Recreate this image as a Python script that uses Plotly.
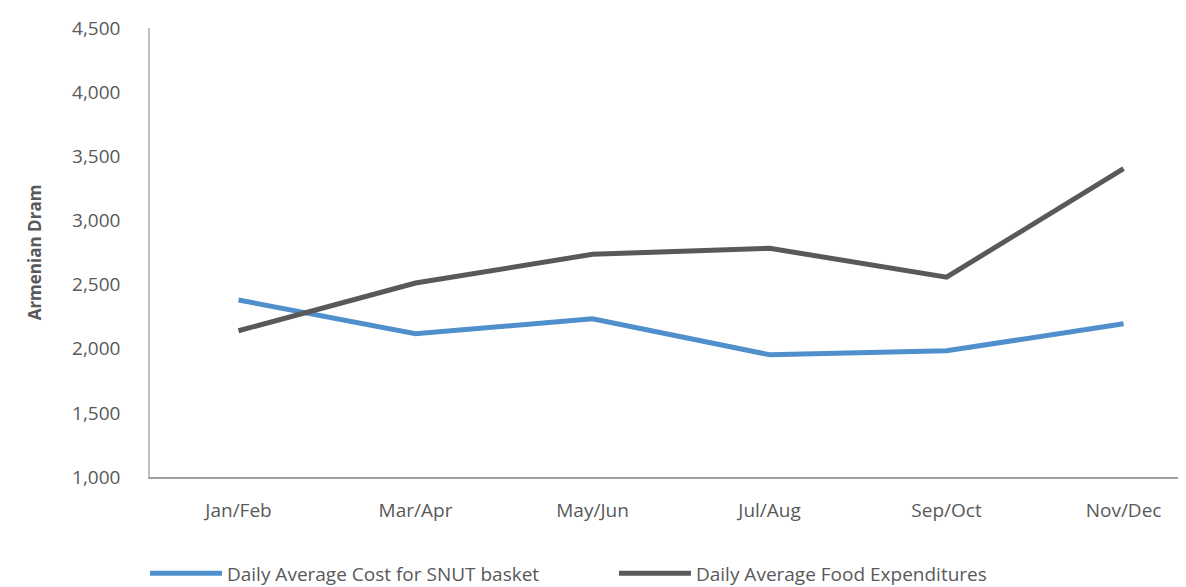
import plotly.graph_objects as go

categories = ["Jan/Feb", "Mar/Apr", "May/Jun", "Jul/Aug", "Sep/Oct", "Nov/Dec"]
snut_cost = [2380, 2116, 2233, 1953, 1984, 2194]
food_exp = [2140, 2512, 2736, 2783, 2558, 3403]
y_ticks = [1000, 1500, 2000, 2500, 3000, 3500, 4000, 4500]

FONT = "Open Sans"
GRAY = "#595959"

fig = go.Figure()
fig.add_trace(go.Scatter(x=categories, y=snut_cost, mode="lines",
                         name="Daily Average Cost for SNUT basket",
                         line=dict(color="#4F8FCC", width=5)))
fig.add_trace(go.Scatter(x=categories, y=food_exp, mode="lines",
                         name="Daily Average Food Expenditures",
                         line=dict(color="#595959", width=5)))

fig.update_layout(
    width=1186, height=587,
    margin=dict(l=142, r=0, t=20, b=118, autoexpand=False),
    paper_bgcolor="white", plot_bgcolor="white",
    font=dict(family=FONT, color=GRAY, size=19),
    showlegend=True,
    legend=dict(orientation="h", xref="container", yref="container",
                x=0.1155, xanchor="left", y=0.037, yanchor="middle",
                font=dict(size=19, color=GRAY), entrywidth=382, entrywidthmode="pixels",
                itemwidth=72),
    xaxis=dict(type="category", range=[-0.5, 5.398], showgrid=False, automargin=False,
               showline=True, linecolor="#A0A0A0", linewidth=1.5,
               ticks="", ticklabelstandoff=15, tickfont=dict(size=19, color=GRAY)),
    yaxis=dict(range=[1000, 4500], tickvals=y_ticks, tickformat=",", showgrid=False,
               automargin=False,
               showline=True, linecolor="#BFBFBF", linewidth=1.5, ticks="",
               ticklabelstandoff=24, tickfont=dict(size=19, color=GRAY),
               title=dict(text="<b>Armenian Dram</b>", font=dict(size=17, color=GRAY),
                          standoff=26)),
)

fig.write_html("out.html")
